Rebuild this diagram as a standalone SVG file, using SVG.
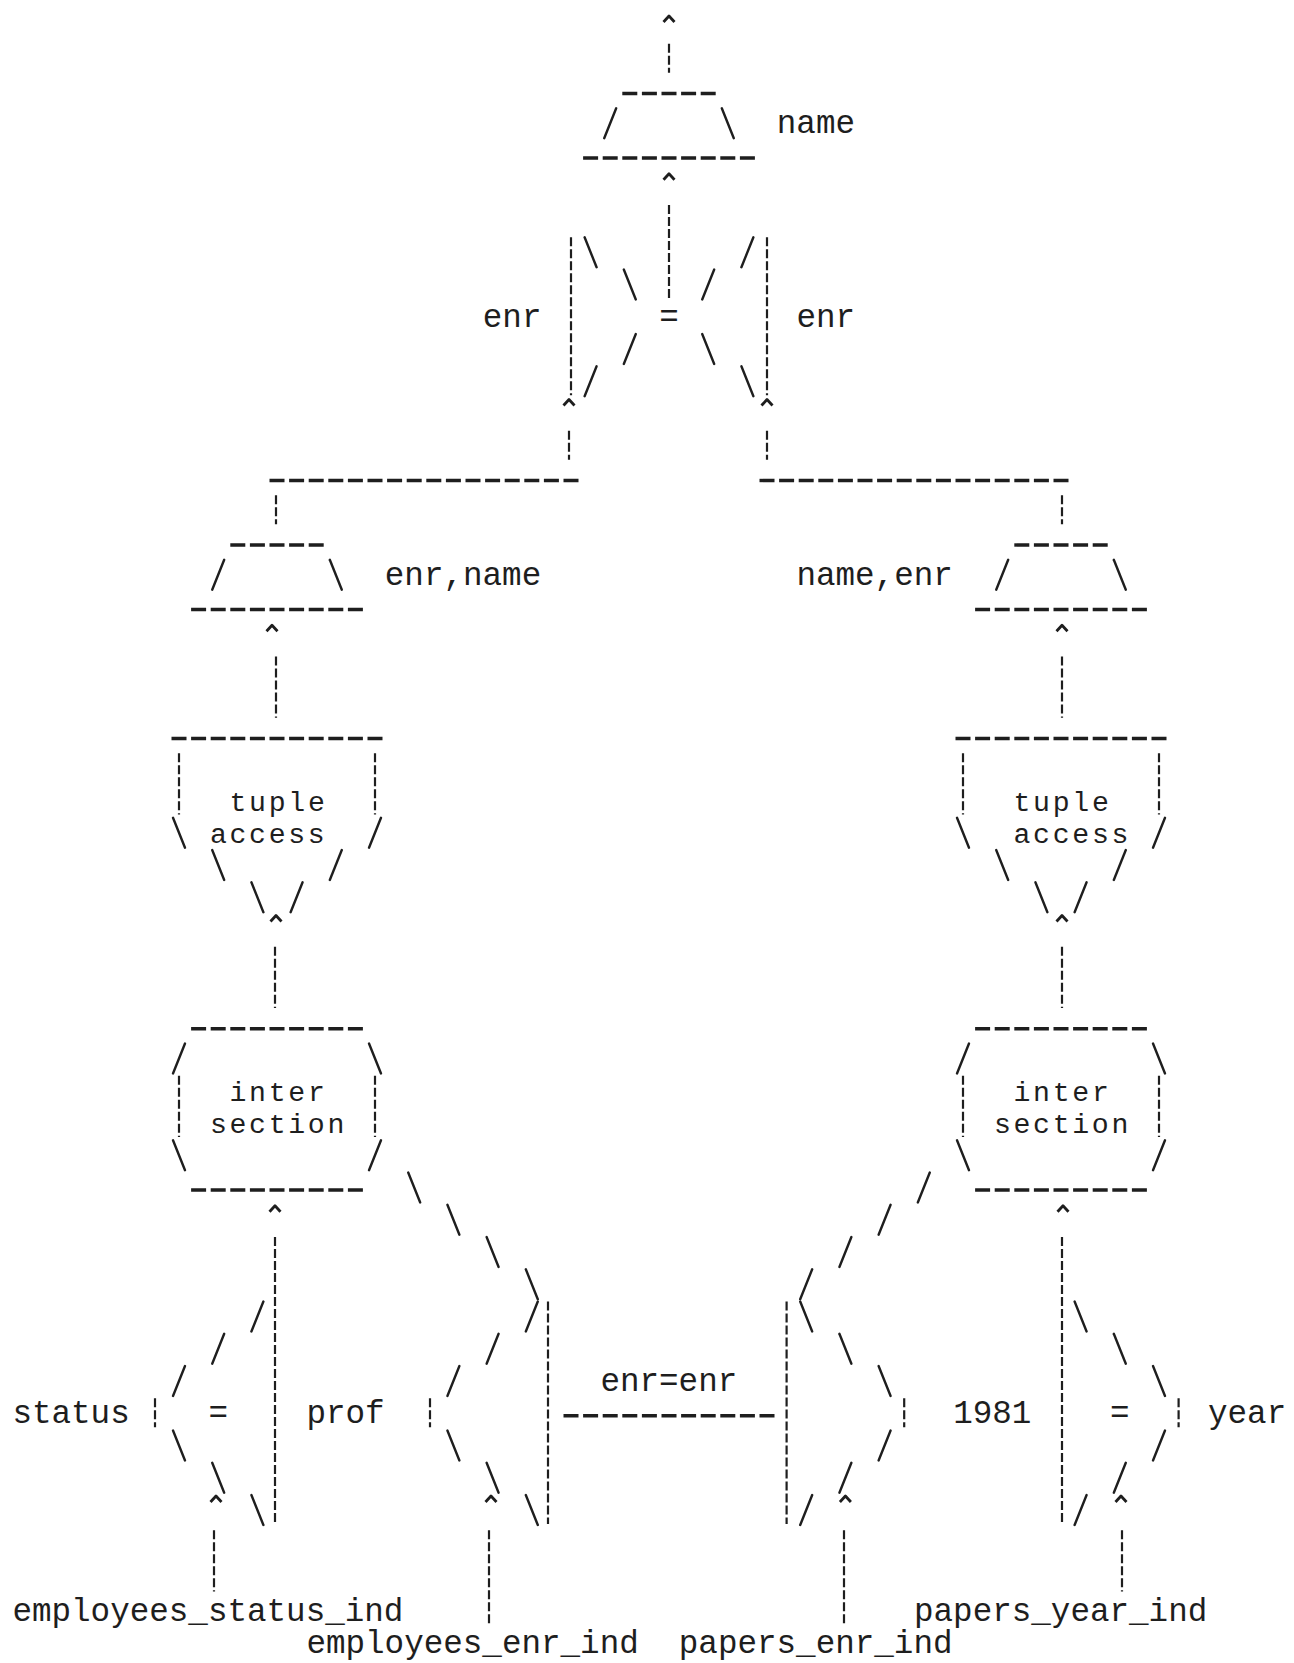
<svg xmlns="http://www.w3.org/2000/svg" xmlns:xlink="http://www.w3.org/1999/xlink" width="1294" height="1663" viewBox="0 0 1294 1663">
<style>
  text { font-family: "Liberation Mono", "DejaVu Sans Mono", monospace; font-size: 32.6px; fill: #1e1e1e; }
  text.stk { font-size: 28.2px; letter-spacing: 2.68px; }
  .hd { stroke: #1e1e1e; stroke-width: 3.4; stroke-dasharray: 15 4.6; fill: none; }
  .vb { stroke: #1e1e1e; stroke-width: 2.2; stroke-dasharray: 9 3; fill: none; }
</style>
<defs>
  <path id="fs" d="M6,-15 L-6,15" stroke="#1e1e1e" stroke-width="2.4" fill="none" stroke-linecap="round"/>
  <path id="bs" d="M-6,-15 L6,15" stroke="#1e1e1e" stroke-width="2.4" fill="none" stroke-linecap="round"/>
  <path id="caret" d="M-5.5,-8 L0,-14 L5.5,-8" stroke="#1e1e1e" stroke-width="2.8" fill="none" stroke-linejoin="round"/>
</defs>
<rect width="1294" height="1663" fill="#ffffff"/>

<!-- top projection on name -->
<g id="node-project-name">
  <line class="hd" x1="622.3" y1="93.5" x2="715.7" y2="93.5"/>
  <use href="#fs" x="610.2" y="123.25"/>
  <use href="#bs" x="727.8" y="123.25"/>
  <line class="hd" x1="583.1" y1="158" x2="754.9" y2="158"/>
  <text x="776.8" y="133.25">name</text>
</g>

<!-- top join enr = enr -->
<g id="node-join-enr-top">
  <line class="vb" x1="571" y1="237.25" x2="571" y2="395.25"/>
  <line class="vb" x1="767" y1="237.25" x2="767" y2="395.25"/>
  <use href="#bs" x="590.6" y="252.25"/>
  <use href="#fs" x="747.4" y="252.25"/>
  <use href="#bs" x="629.8" y="284.5"/>
  <use href="#fs" x="708.2" y="284.5"/>
  <use href="#fs" x="629.8" y="349"/>
  <use href="#bs" x="708.2" y="349"/>
  <use href="#fs" x="590.6" y="381.25"/>
  <use href="#bs" x="747.4" y="381.25"/>
  <text x="482.8" y="326.75">enr</text>
  <text x="659.2" y="326.75">=</text>
  <text x="796.4" y="326.75">enr</text>
</g>

<!-- left projection enr,name -->
<g id="node-project-left">
  <line class="hd" x1="230.3" y1="545" x2="323.7" y2="545"/>
  <use href="#fs" x="218.2" y="574.75"/>
  <use href="#bs" x="335.8" y="574.75"/>
  <line class="hd" x1="191.1" y1="609.5" x2="362.9" y2="609.5"/>
  <text x="384.8" y="584.75">enr,name</text>
</g>

<!-- right projection name,enr -->
<g id="node-project-right">
  <line class="hd" x1="1014.3" y1="545" x2="1107.7" y2="545"/>
  <use href="#fs" x="1002.2" y="574.75"/>
  <use href="#bs" x="1119.8" y="574.75"/>
  <line class="hd" x1="975.1" y1="609.5" x2="1146.9" y2="609.5"/>
  <text x="796.4" y="584.75">name,enr</text>
</g>

<!-- left tuple access -->
<g id="node-tuple-access-left">
  <line class="hd" x1="171.5" y1="738.5" x2="382.5" y2="738.5"/>
  <line class="vb" x1="179" y1="753.25" x2="179" y2="814.5"/>
  <line class="vb" x1="375" y1="753.25" x2="375" y2="814.5"/>
  <use href="#bs" x="179" y="832.75"/>
  <use href="#fs" x="375" y="832.75"/>
  <use href="#bs" x="218.2" y="865"/>
  <use href="#fs" x="335.8" y="865"/>
  <use href="#bs" x="257.4" y="897.25"/>
  <use href="#fs" x="296.6" y="897.25"/>
  <text class="stk"><tspan x="229.5" y="810.5">tuple</tspan><tspan x="209.9" y="842.75">access</tspan></text>
</g>

<!-- right tuple access -->
<g id="node-tuple-access-right">
  <line class="hd" x1="955.5" y1="738.5" x2="1166.5" y2="738.5"/>
  <line class="vb" x1="963" y1="753.25" x2="963" y2="814.5"/>
  <line class="vb" x1="1159" y1="753.25" x2="1159" y2="814.5"/>
  <use href="#bs" x="963" y="832.75"/>
  <use href="#fs" x="1159" y="832.75"/>
  <use href="#bs" x="1002.2" y="865"/>
  <use href="#fs" x="1119.8" y="865"/>
  <use href="#bs" x="1041.4" y="897.25"/>
  <use href="#fs" x="1080.6" y="897.25"/>
  <text class="stk"><tspan x="1013.5" y="810.5">tuple</tspan><tspan x="1013.5" y="842.75">access</tspan></text>
</g>

<!-- left intersection -->
<g id="node-intersection-left">
  <line class="hd" x1="191.1" y1="1028.75" x2="362.9" y2="1028.75"/>
  <use href="#fs" x="179" y="1058.5"/>
  <use href="#bs" x="375" y="1058.5"/>
  <line class="vb" x1="179" y1="1075.75" x2="179" y2="1137"/>
  <line class="vb" x1="375" y1="1075.75" x2="375" y2="1137"/>
  <use href="#bs" x="179" y="1155.25"/>
  <use href="#fs" x="375" y="1155.25"/>
  <line class="hd" x1="191.1" y1="1190" x2="362.9" y2="1190"/>
  <text class="stk"><tspan x="229.5" y="1100.75">inter</tspan><tspan x="209.9" y="1133">section</tspan></text>
</g>

<!-- right intersection -->
<g id="node-intersection-right">
  <line class="hd" x1="975.1" y1="1028.75" x2="1146.9" y2="1028.75"/>
  <use href="#fs" x="963" y="1058.5"/>
  <use href="#bs" x="1159" y="1058.5"/>
  <line class="vb" x1="963" y1="1075.75" x2="963" y2="1137"/>
  <line class="vb" x1="1159" y1="1075.75" x2="1159" y2="1137"/>
  <use href="#bs" x="963" y="1155.25"/>
  <use href="#fs" x="1159" y="1155.25"/>
  <line class="hd" x1="975.1" y1="1190" x2="1146.9" y2="1190"/>
  <text class="stk"><tspan x="1013.5" y="1100.75">inter</tspan><tspan x="993.9" y="1133">section</tspan></text>
</g>

<!-- select status = prof -->
<g id="node-select-status">
  <line class="vb" x1="275" y1="1237" x2="275" y2="1524"/>
  <use href="#fs" x="257.4" y="1316.5"/>
  <use href="#fs" x="218.2" y="1348.75"/>
  <use href="#fs" x="179" y="1381"/>
  <line class="vb" x1="155" y1="1398.25" x2="155" y2="1427.25"/>
  <use href="#bs" x="179" y="1445.5"/>
  <use href="#bs" x="218.2" y="1477.75"/>
  <use href="#bs" x="257.4" y="1510"/>
  <text x="12.4" y="1423.25">status</text>
  <text x="208.4" y="1423.25">=</text>
  <text x="306.4" y="1423.25">prof</text>
</g>

<!-- left index scan on employees_enr_ind -->
<g id="node-scan-employees-enr">
  <use href="#fs" x="531.8" y="1316.5"/>
  <line class="vb" x1="548" y1="1301.5" x2="548" y2="1524"/>
  <use href="#fs" x="492.6" y="1348.75"/>
  <use href="#fs" x="453.4" y="1381"/>
  <line class="vb" x1="430" y1="1398.25" x2="430" y2="1427.25"/>
  <use href="#bs" x="453.4" y="1445.5"/>
  <use href="#bs" x="492.6" y="1477.75"/>
  <use href="#bs" x="531.8" y="1510"/>
</g>

<!-- join enr=enr -->
<g id="node-join-enr-enr">
  <text x="600.4" y="1391">enr=enr</text>
  <line class="hd" x1="563.5" y1="1415.75" x2="774.5" y2="1415.75"/>
</g>

<!-- right index scan on papers_enr_ind -->
<g id="node-scan-papers-enr">
  <use href="#bs" x="806.2" y="1316.5"/>
  <line class="vb" x1="786.6" y1="1301.5" x2="786.6" y2="1524"/>
  <use href="#bs" x="845.4" y="1348.75"/>
  <use href="#bs" x="884.6" y="1381"/>
  <line class="vb" x1="904.2" y1="1398.25" x2="904.2" y2="1427.25"/>
  <use href="#fs" x="884.6" y="1445.5"/>
  <use href="#fs" x="845.4" y="1477.75"/>
  <use href="#fs" x="806.2" y="1510"/>
</g>

<!-- select 1981 = year -->
<g id="node-select-year">
  <line class="vb" x1="1062" y1="1237" x2="1062" y2="1524"/>
  <use href="#bs" x="1080.6" y="1316.5"/>
  <use href="#bs" x="1119.8" y="1348.75"/>
  <use href="#bs" x="1159" y="1381"/>
  <line class="vb" x1="1178.6" y1="1398.25" x2="1178.6" y2="1427.25"/>
  <use href="#fs" x="1159" y="1445.5"/>
  <use href="#fs" x="1119.8" y="1477.75"/>
  <use href="#fs" x="1080.6" y="1510"/>
  <text x="953.2" y="1423.25">1981</text>
  <text x="1110" y="1423.25">=</text>
  <text x="1208" y="1423.25">year</text>
</g>

<!-- index names -->
<g id="node-index-employees-status">
  <text x="12.4" y="1620.75">employees_status_ind</text>
</g>
<g id="node-index-employees-enr">
  <text x="306.4" y="1653">employees_enr_ind</text>
</g>
<g id="node-index-papers-enr">
  <text x="678.8" y="1653">papers_enr_ind</text>
</g>
<g id="node-index-papers-year">
  <text x="914" y="1620.75">papers_year_ind</text>
</g>

<!-- connectors -->
<g id="connectors">
  <!-- output of top projection -->
  <use href="#caret" x="669" y="30"/>
  <line class="vb" x1="669" y1="43.75" x2="669" y2="72.75"/>
  <!-- join -> projection -->
  <use href="#caret" x="669" y="187.75"/>
  <line class="vb" x1="669" y1="205" x2="669" y2="298.5"/>
  <!-- projections -> join -->
  <use href="#caret" x="569" y="413.5"/>
  <use href="#caret" x="767" y="413.5"/>
  <line class="vb" x1="569" y1="430.75" x2="569" y2="459.75"/>
  <line class="vb" x1="767" y1="430.75" x2="767" y2="459.75"/>
  <line class="hd" x1="269.5" y1="480.5" x2="578.5" y2="480.5"/>
  <line class="hd" x1="759.5" y1="480.5" x2="1068.5" y2="480.5"/>
  <line class="vb" x1="276" y1="495.25" x2="276" y2="524.25"/>
  <line class="vb" x1="1062" y1="495.25" x2="1062" y2="524.25"/>
  <!-- tuple access -> projection -->
  <use href="#caret" x="272" y="639.25"/>
  <use href="#caret" x="1062" y="639.25"/>
  <line class="vb" x1="276" y1="656.5" x2="276" y2="717.75"/>
  <line class="vb" x1="1062" y1="656.5" x2="1062" y2="717.75"/>
  <!-- intersection -> tuple access -->
  <use href="#caret" x="276" y="929.5"/>
  <use href="#caret" x="1062" y="929.5"/>
  <line class="vb" x1="275" y1="946.75" x2="275" y2="1008"/>
  <line class="vb" x1="1062" y1="946.75" x2="1062" y2="1008"/>
  <!-- selects -> intersection -->
  <use href="#caret" x="275" y="1219.75"/>
  <use href="#caret" x="1063" y="1219.75"/>
  <!-- scans -> intersection (diagonals) -->
  <use href="#bs" x="414.2" y="1187.5"/>
  <use href="#bs" x="453.4" y="1219.75"/>
  <use href="#bs" x="492.6" y="1252"/>
  <use href="#bs" x="531.8" y="1284.25"/>
  <use href="#fs" x="923.8" y="1187.5"/>
  <use href="#fs" x="884.6" y="1219.75"/>
  <use href="#fs" x="845.4" y="1252"/>
  <use href="#fs" x="806.2" y="1284.25"/>
  <!-- index inputs -->
  <use href="#caret" x="216" y="1510"/>
  <use href="#caret" x="491" y="1510"/>
  <use href="#caret" x="845.4" y="1510"/>
  <use href="#caret" x="1121" y="1510"/>
  <line class="vb" x1="214" y1="1530.25" x2="214" y2="1591.5"/>
  <line class="vb" x1="489" y1="1530.25" x2="489" y2="1624.75"/>
  <line class="vb" x1="844" y1="1530.25" x2="844" y2="1624.75"/>
  <line class="vb" x1="1122" y1="1530.25" x2="1122" y2="1591.5"/>
</g>
</svg>
